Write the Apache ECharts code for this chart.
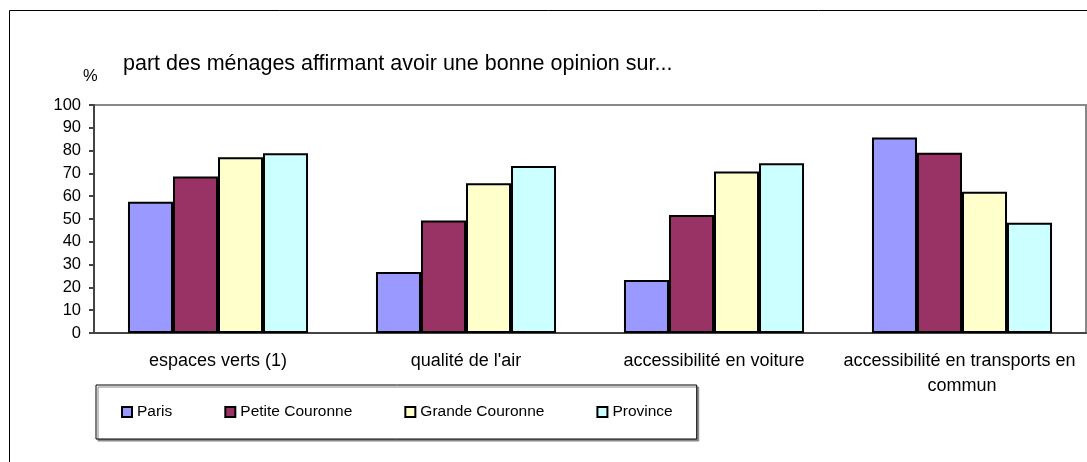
<!DOCTYPE html>
<html>
<head>
<meta charset="utf-8">
<script src="https://cdn.jsdelivr.net/npm/echarts@6/dist/echarts.min.js"></script>
<style>
  html, body { margin: 0; padding: 0; background: #fff; }
  #chart { width: 1087px; height: 462px; }
</style>
</head>
<body>
<div id="chart"></div>
<script>
// catégories et valeurs (%)
var categories = ['espaces verts (1)', "qualité de l'air", 'accessibilité en voiture', 'accessibilité en transports en commun']
var paris = [57.6, 26.8, 23.3, 85.7]
var petiteCouronne = [68.6, 49.3, 51.7, 79.1]
var grandeCouronne = [77.1, 65.7, 70.8, 62]
var province = [78.8, 73.3, 74.5, 48.4]
var yTicks = [0, 10, 20, 30, 40, 50, 60, 70, 80, 90, 100]

var FONT = '"Liberation Sans", Arial, sans-serif'

function barSerie(name, data, color) {
  return {
    name: name,
    type: 'bar',
    data: data,
    barGap: '0%',
    barCategoryGap: '27.4%',
    itemStyle: { color: color, borderColor: '#000', borderWidth: 2 }
  }
}

var myChart = echarts.init(document.getElementById('chart'))
var option = {
  animation: false,
  textStyle: { fontFamily: FONT, color: '#000' },
  graphic: [
    // cadre extérieur
    { type: 'rect', shape: { x: 9.5, y: 10.5, width: 1200, height: 600 },
      style: { fill: 'none', stroke: '#000', lineWidth: 1 }, z: 0 },
    { type: 'text', x: 123, y: 64,
      style: { text: 'part des ménages affirmant avoir une bonne opinion sur...',
        font: '21.5px ' + FONT, fill: '#000', verticalAlign: 'middle' } },
    { type: 'text', x: 83, y: 76,
      style: { text: '%', font: '16.5px ' + FONT, fill: '#000', verticalAlign: 'middle' } }
  ],
  grid: {
    left: 94, right: 1, top: 105, bottom: 129,
    outerBoundsMode: 'none', containLabel: false,
    show: true, borderColor: '#888', borderWidth: 2, backgroundColor: 'transparent'
  },
  legend: {
    left: 96, top: 385,
    padding: [19, 24, 19, 25],
    itemWidth: 10, itemHeight: 10, itemGap: 52,
    icon: 'rect',
    itemStyle: { borderColor: '#000', borderWidth: 2 },
    backgroundColor: '#fff',
    borderColor: '#000', borderWidth: 1,
    shadowColor: '#888', shadowOffsetX: 2, shadowOffsetY: 2, shadowBlur: 0,
    textStyle: { fontSize: 15.5, fontFamily: FONT, color: '#000' },
    data: ['Paris', 'Petite Couronne', 'Grande Couronne', 'Province']
  },
  xAxis: {
    type: 'category',
    data: categories,
    axisLine: { lineStyle: { color: '#444', width: 2 } },
    axisTick: { length: 5, lineStyle: { color: '#444', width: 2 } },
    axisLabel: {
      interval: 0,
      fontSize: 18, fontFamily: FONT, color: '#000', margin: 16,
      width: 250, overflow: 'break', lineHeight: 25
    }
  },
  yAxis: {
    type: 'value',
    min: yTicks[0], max: yTicks[yTicks.length - 1], interval: 10,
    axisLine: { show: true, lineStyle: { color: '#444', width: 2 } },
    axisTick: { show: true, length: 5, lineStyle: { color: '#444', width: 2 } },
    axisLabel: { fontSize: 16.5, fontFamily: FONT, color: '#000', margin: 13 },
    splitLine: { show: false }
  },
  series: [
    barSerie('Paris', paris, '#9999FF'),
    barSerie('Petite Couronne', petiteCouronne, '#993366'),
    barSerie('Grande Couronne', grandeCouronne, '#FFFFCC'),
    barSerie('Province', province, '#CCFFFF')
  ]
}
myChart.setOption(option)
</script>
</body>
</html>
